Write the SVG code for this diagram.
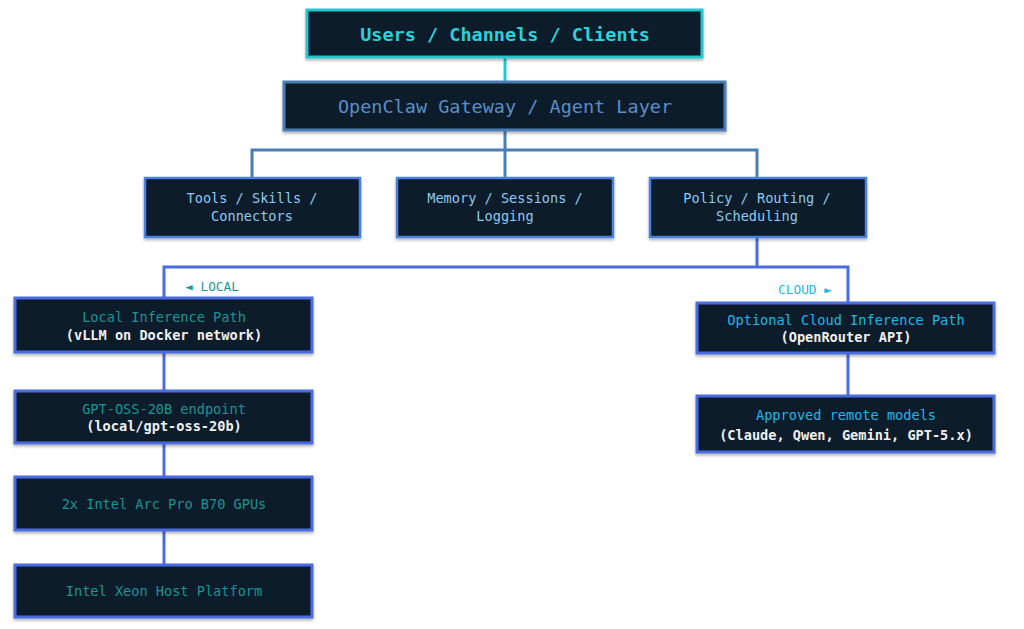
<svg xmlns="http://www.w3.org/2000/svg" width="1024" height="629" viewBox="0 0 1024 629">
  <defs>
    <filter id="sh" x="-10%" y="-20%" width="120%" height="150%">
      <feDropShadow dx="0" dy="2" stdDeviation="1.5" flood-color="#000" flood-opacity="0.3"/>
    </filter>
    <style>
      text { font-family: "DejaVu Sans Mono", "Liberation Mono", monospace; text-anchor: middle; dominant-baseline: central; }
      .box { fill: #111a2c; filter: url(#sh); }
      .top { stroke: #22c6cc; stroke-width: 3; }
      .gw { stroke: #4a7db5; stroke-width: 3; }
      .mid { stroke: #4b80dc; stroke-width: 2.5; }
      .low { stroke: #4a6ce0; stroke-width: 3; }
      .t-top { fill: #2ad2da; font-size: 18.5px; font-weight: bold; }
      .t-gw { fill: #5b8ec8; font-size: 18.5px; }
      .t-mid { fill: #8ccaf2; font-size: 13.6px; }
      .t-local { fill: #1a9494; font-size: 13.6px; }
      .t-cloud { fill: #1cb8ea; font-size: 13.6px; }
      .t-white { fill: #f0f0f0; font-size: 13.6px; font-weight: bold; }
      .conn { fill: none; stroke-width: 3; }
    </style>
  </defs>
  <rect width="1024" height="629" fill="#ffffff"/>

  <g id="connectors">
    <line class="conn" x1="505" y1="57" x2="505" y2="82" stroke="#22c6cc"/>
    <path class="conn" d="M505 130 V150 M252 178 V150 H757 V178 M505 150 V178" stroke="#4a7db5"/>
    <path class="conn" d="M757 237 V267 M164 298 V267 H848 V303" stroke="#4a6ce0"/>
    <line class="conn" x1="164" y1="352" x2="164" y2="391" stroke="#4a6ce0"/>
    <line class="conn" x1="164" y1="443" x2="164" y2="477" stroke="#4a6ce0"/>
    <line class="conn" x1="164" y1="530" x2="164" y2="565" stroke="#4a6ce0"/>
    <line class="conn" x1="848" y1="353" x2="848" y2="396" stroke="#4a6ce0"/>
    <text x="212" y="286" style="fill:#1a9a9a;font-size:12.8px">◄ LOCAL</text>
    <text x="805" y="289" style="fill:#1cb8ea;font-size:12.8px">CLOUD ►</text>
  </g>

  <g id="users">
    <rect class="box top" x="307" y="10" width="395" height="47"/>
    <text class="t-top" x="505" y="34">Users / Channels / Clients</text>
  </g>

  <g id="gateway">
    <rect class="box gw" x="284" y="82" width="441" height="48"/>
    <text class="t-gw" x="505" y="106">OpenClaw Gateway / Agent Layer</text>
  </g>

  <g id="tools">
    <rect class="box mid" x="145" y="178" width="215" height="59"/>
    <text class="t-mid" x="252" y="198">Tools / Skills /</text>
    <text class="t-mid" x="252" y="216">Connectors</text>
  </g>

  <g id="memory">
    <rect class="box mid" x="397" y="178" width="216" height="59"/>
    <text class="t-mid" x="505" y="198">Memory / Sessions /</text>
    <text class="t-mid" x="505" y="216">Logging</text>
  </g>

  <g id="policy">
    <rect class="box mid" x="650" y="178" width="216" height="59"/>
    <text class="t-mid" x="757" y="198">Policy / Routing /</text>
    <text class="t-mid" x="757" y="216">Scheduling</text>
  </g>

  <g id="local">
    <rect class="box low" x="15" y="298" width="297" height="54"/>
    <text class="t-local" x="164" y="317">Local Inference Path</text>
    <text class="t-white" x="164" y="335">(vLLM on Docker network)</text>
  </g>

  <g id="gptoss">
    <rect class="box low" x="15" y="391" width="297" height="52"/>
    <text class="t-local" x="164" y="409">GPT-OSS-20B endpoint</text>
    <text class="t-white" x="164" y="426">(local/gpt-oss-20b)</text>
  </g>

  <g id="gpus">
    <rect class="box low" x="15" y="477" width="297" height="53"/>
    <text class="t-local" x="164" y="504">2x Intel Arc Pro B70 GPUs</text>
  </g>

  <g id="xeon">
    <rect class="box low" x="15" y="565" width="297" height="52"/>
    <text class="t-local" x="164" y="591">Intel Xeon Host Platform</text>
  </g>

  <g id="cloud">
    <rect class="box low" x="697" y="303" width="297" height="50"/>
    <text class="t-cloud" x="846" y="320">Optional Cloud Inference Path</text>
    <text class="t-white" x="846" y="337">(OpenRouter API)</text>
  </g>

  <g id="approved">
    <rect class="box low" x="697" y="396" width="297" height="56"/>
    <text class="t-cloud" x="846" y="415">Approved remote models</text>
    <text class="t-white" x="846" y="435">(Claude, Qwen, Gemini, GPT-5.x)</text>
  </g>
</svg>
